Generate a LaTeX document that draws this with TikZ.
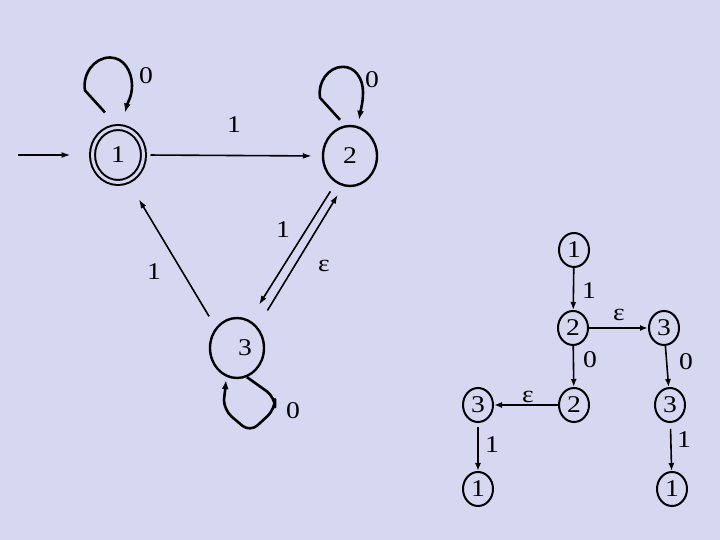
\documentclass[tikz,border=0pt]{standalone}
\usepackage{amsmath}
\usepackage{fontspec}
\setmainfont{Liberation Serif}[FakeStretch=1.15]
\usepackage{tikz}
\usetikzlibrary{calc, arrows.meta, shapes.geometric}
\definecolor{lav}{RGB}{214,216,242}

\begin{document}
\begin{tikzpicture}[x=1pt, y=1pt, font=\fontsize{24}{28}\selectfont,
	state/.style={ellipse, draw, line width=2.4pt, minimum width=54pt, minimum height=60pt, inner sep=0pt},
	accept/.style={state, line width=2pt, double=lav, double distance=3pt, minimum width=51pt, minimum height=55pt},
	tnode/.style={ellipse, draw, line width=2pt, minimum width=30pt, minimum height=34pt, inner sep=0pt},
	trans/.style={-{Latex[length=9pt,width=6pt]}, line width=1.6pt},
	loopline/.style={-{Latex[length=9pt,width=7pt]}, line width=2.6pt, line join=round},
	tarr/.style={-{Latex[length=8pt,width=6pt]}, line width=1.6pt}]
	\fill[lav] (0,0) rectangle (720,540);

	\node[accept] (s1) at (118,385) {1};
	\node[state] (s2) at (350,384) {2};
	\node[state] (s3) at (237,192) {\hspace*{16pt}3};
	\coordinate (start) at (18,385);

	\draw[trans, shorten >=21pt] (start) -- (s1.west);
	\draw[trans, shorten <=6pt, shorten >=10pt] (s1.east) -- (s2.west);
	\draw[trans, shorten <=10pt, shorten >=18pt] (s2.242) -- (s3.66);
	\draw[trans, shorten <=19pt, shorten >=10pt] (s3.46) -- (s2.257);
	\draw[trans, shorten <=13pt, shorten >=21pt] (s3.136) -- (s1.291);

	\draw[loopline] ($(s1.north)+(-13,14)$) -- ++(-20,22) to[out=100,in=180] ++(25,33) to[out=0,in=90] ++(22,-28) to[out=-90,in=75] ++(-7,-27);
	\draw[loopline] ($(s2.north)+(-10,5)$) -- ++(-20,22) to[out=100,in=180] ++(23,31) to[out=0,in=90] ++(20,-25) to[out=-90,in=80] ++(-4,-28);
	\draw[loopline, rounded corners=10pt] ($(s3.south)+(10,2)$) -- ++(28,-20) -- ++(0,-12) -- ++(-25,-23) -- ++(-26,22) to[out=90,in=-95] ++(2,30);

	\node (l11) at (146,464) {0};
	\node (l22) at (372,460) {0};
	\node (l12) at (234,415) {1};
	\node (l23) at (283,310) {1};
	\node (l32) at (324,274) {ε};
	\node (l31) at (154,268) {1};
	\node (l33) at (293,129) {0};

	\node[tnode] (t1) at (574,290) {1};
	\node[tnode] (t2) at (573,212) {2};
	\node[tnode] (t3) at (664,212) {3};
	\node[tnode] (t4) at (574,135) {2};
	\node[tnode] (t5) at (478,135) {3};
	\node[tnode] (t6) at (670,135) {3};
	\node[tnode] (t7) at (478,51) {1};
	\node[tnode] (t8) at (672,51) {1};

	\draw[tarr] (t1) -- (t2);
	\draw[tarr] (t2) -- (t3);
	\draw[tarr] (t2) -- (t4);
	\draw[tarr] (t3) -- (t6);
	\draw[tarr] (t4) -- (t5);
	\draw[tarr, shorten <=4pt] (t5) -- (t7);
	\draw[tarr, shorten <=6pt] (t6) -- (t8);

	\node (m12) at (589,249) {1};
	\node (m23) at (619,225) {ε};
	\node (m24) at (590,180) {0};
	\node (m36) at (686,178) {0};
	\node (m45) at (528,143) {ε};
	\node (m57) at (492,95) {1};
	\node (m68) at (684,100) {1};
\end{tikzpicture}
\end{document}
